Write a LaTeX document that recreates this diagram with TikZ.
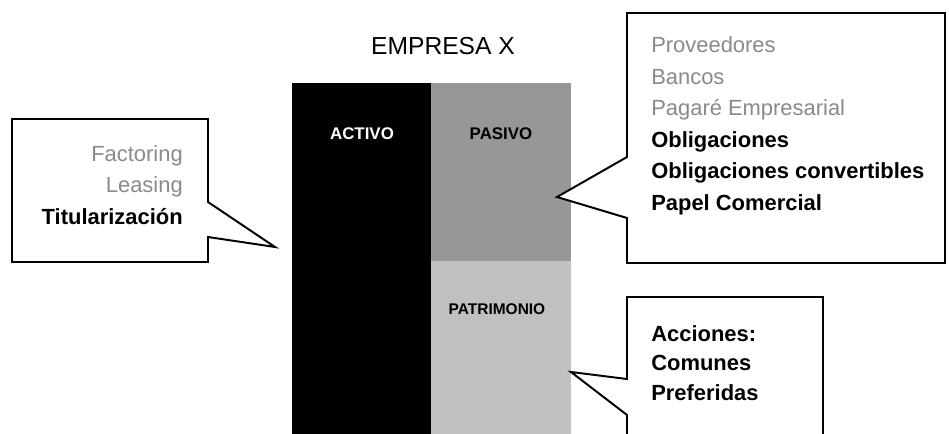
\documentclass[tikz,border=0pt]{standalone}
\usepackage{fontspec}
\setmainfont{Liberation Sans}
\usetikzlibrary{positioning}
\definecolor{pasivogray}{RGB}{151,151,151}
\definecolor{patrimoniogray}{RGB}{192,192,192}
\definecolor{softgray}{RGB}{138,138,138}
\tikzset{
  % outline of the speech boxes
  callout line/.style={draw=black,line width=1.4pt,fill=white,line join=miter},
  % text lists inside the speech boxes
  list text/.style={font=\fontsize{15.6}{22.4}\selectfont,inner sep=0pt},
  % labels of the balance blocks
  block label/.style={font=\bfseries\fontsize{12}{14}\selectfont,inner sep=0pt},
}

\begin{document}
\begin{tikzpicture}[x=0.025cm,y=-0.025cm]
\useasboundingbox (0,0) rectangle (949,434);
\coordinate (A) at (292,83);
\coordinate (B) at (431,83);
\coordinate (C) at (571,83);
\coordinate (M) at (431,261);
\coordinate (N) at (571,261);
\coordinate (D) at (292,434);
\coordinate (E) at (431,434);
\coordinate (F) at (571,434);
\fill [black](A) rectangle (E);
\fill [pasivogray](B) rectangle (N);
\fill [patrimoniogray](M) rectangle (F);
\node (title) at (443,46) {\fontsize{17.5}{20}\selectfont EMPRESA X};
\node[block label,white] (activo) at (362,134) {ACTIVO};
\node[block label] (pasivo) at (501,134) {PASIVO};
\node[block label,font=\bfseries\fontsize{11}{13}\selectfont] (patrimonio) at (497,309) {PATRIMONIO};
\path [callout line]
  (12,119)--(208,119)--(208,202)--(275,247)--(208,237)--(208,262)--(12,262)--cycle;
\path [callout line]
  (627,13)--(945,13)--(945,263)--(627,263)--(627,218)--(557,197)--(627,157)--cycle;
\fill [white](627,297) rectangle (823,434);
\draw [black,line width=1.4pt,line join=miter]
  (627,434)--(627,415)--(571,372)--(627,379)--(627,297)--(823,297)--(823,434);
\node[list text,align=right,anchor=east] (leftlist) at (183,185)
  {\textcolor{softgray}{Factoring}\\ \textcolor{softgray}{Leasing}\\ \textbf{Titularización}};
\node[list text,align=left,anchor=west] (toplist) at (651,126)
  {\textcolor{softgray}{Proveedores}\\ \textcolor{softgray}{Bancos}\\ \textcolor{softgray}{Pagaré Empresarial}\\
   \textbf{Obligaciones}\\ \textbf{Obligaciones convertibles}\\ \textbf{Papel Comercial}};
\node[list text,align=left,anchor=west,font=\bfseries\fontsize{15.6}{21.2}\selectfont] (bottomlist) at (651,363)
  {Acciones:\\ Comunes\\ Preferidas};
\end{tikzpicture}
\end{document}
